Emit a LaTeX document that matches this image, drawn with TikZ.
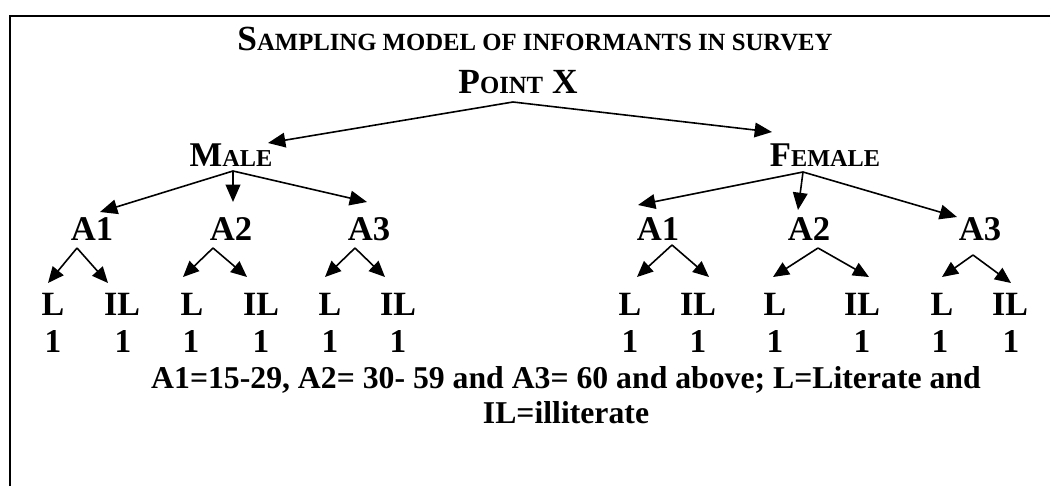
\documentclass[tikz,border=0pt]{standalone}
\usepackage{fontspec}
\setmainfont{Liberation Serif}
\usepackage{graphicx}
\usetikzlibrary{arrows.meta}
\newcommand{\fakesc}[2]{#1\scalebox{0.7}{#2}}

\begin{document}
\begin{tikzpicture}[x=0.75pt,y=-0.75pt,
    every node/.style={inner sep=0pt,anchor=base},
    ttl/.style={font=\fontsize{26.5}{30}\selectfont\bfseries},
    sex/.style={font=\fontsize{26}{30}\selectfont\bfseries},
    age/.style={font=\fontsize{26}{30}\selectfont\bfseries},
    lit/.style={font=\fontsize{25.5}{30}\selectfont\bfseries},
    num/.style={font=\fontsize{25}{30}\selectfont\bfseries},
    note/.style={font=\fontsize{23.8}{28}\selectfont\bfseries},
    arr/.style={-{Triangle[length=13pt,width=11pt]},line width=1.2pt},
    arrsm/.style={-{Triangle[length=12pt,width=10.5pt]},line width=1.2pt}]
  \useasboundingbox (0,0) rectangle (1050,486);
  \draw[line width=1.5pt] (10,486) -- (10,16) -- (1050,16);
  \path
    (535,50) node[ttl] (title){\fakesc{S}{AMPLING MODEL OF INFORMANTS IN SURVEY}}
    (518,93) node[ttl] (pointx){\fakesc{P}{OINT} X}
    (231,166) node[sex] (male){\fakesc{M}{ALE}}
    (825,166) node[sex] (female){\fakesc{F}{EMALE}}
    (92,240) node[age] (mA1){A1}
    (231,240) node[age] (mA2){A2}
    (369,240) node[age] (mA3){A3}
    (658,240) node[age] (fA1){A1}
    (809,240) node[age] (fA2){A2}
    (980,240) node[age] (fA3){A3};
  \path
    (53,315) node[lit] (mL1){L}
    (122,315) node[lit] (mIL1){IL}
    (192,315) node[lit] (mL2){L}
    (261,315) node[lit] (mIL2){IL}
    (330,315) node[lit] (mL3){L}
    (398,315) node[lit] (mIL3){IL}
    (630,315) node[lit] (fL1){L}
    (698,315) node[lit] (fIL1){IL}
    (775,315) node[lit] (fL2){L}
    (862,315) node[lit] (fIL2){IL}
    (942,315) node[lit] (fL3){L}
    (1010,315) node[lit] (fIL3){IL};
  \path
    (53,352) node[num] (mL1n){1}
    (123,352) node[num] (mIL1n){1}
    (191,352) node[num] (mL2n){1}
    (261,352) node[num] (mIL2n){1}
    (330,352) node[num] (mL3n){1}
    (398,352) node[num] (mIL3n){1}
    (630,352) node[num] (fL1n){1}
    (698,352) node[num] (fIL1n){1}
    (775,352) node[num] (fL2n){1}
    (862,352) node[num] (fIL2n){1}
    (940,352) node[num] (fL3n){1}
    (1011,352) node[num] (fIL3n){1};
  \path
    (566,388) node[note] (key1){A1=15-29, A2= 30- 59 and A3= 60 and above; L=Literate and}
    (566,423) node[note] (key2){IL=illiterate};
  \begin{scope}[arr]
    \draw ([shift={(-5,9)}]pointx.base) to ([shift={(37,-23)}]male.base);
    \draw ([shift={(-5,9)}]pointx.base) to ([shift={(-53,-34)}]female.base);
    \draw ([shift={(2,5)}]male.base) to ([shift={(8,-28)}]mA1.base);
    \draw ([shift={(2,5)}]male.base) to ([shift={(2,-38)}]mA2.base);
    \draw ([shift={(2,5)}]male.base) to ([shift={(-2,-38)}]mA3.base);
    \draw ([shift={(-22,6)}]female.base) to ([shift={(-20,-35)}]fA1.base);
    \draw ([shift={(-22,6)}]female.base) to ([shift={(-11,-30)}]fA2.base);
    \draw ([shift={(-22,6)}]female.base) to ([shift={(-23,-23)}]fA3.base);
  \end{scope}
  \begin{scope}[arrsm]
    \draw ([shift={(-15,8)}]mA1.base) to ([shift={(-5,-32)}]mL1.base);
    \draw ([shift={(-15,8)}]mA1.base) to ([shift={(-14,-32)}]mIL1.base);
    \draw ([shift={(-18,8)}]mA2.base) to ([shift={(-9,-38)}]mL2.base);
    \draw ([shift={(-18,8)}]mA2.base) to ([shift={(-14,-38)}]mIL2.base);
    \draw ([shift={(-14,8)}]mA3.base) to ([shift={(-5,-38)}]mL3.base);
    \draw ([shift={(-14,8)}]mA3.base) to ([shift={(-13,-38)}]mIL3.base);
    \draw ([shift={(14,5)}]fA1.base) to ([shift={(7,-38)}]fL1.base);
    \draw ([shift={(14,5)}]fA1.base) to ([shift={(11,-38)}]fIL1.base);
    \draw ([shift={(9,8)}]fA2.base) to ([shift={(-2,-38)}]fL2.base);
    \draw ([shift={(9,8)}]fA2.base) to ([shift={(7,-38)}]fIL2.base);
    \draw ([shift={(-7,15)}]fA3.base) to ([shift={(0,-38)}]fL3.base);
    \draw ([shift={(-7,15)}]fA3.base) to ([shift={(1,-32)}]fIL3.base);
  \end{scope}
\end{tikzpicture}
\end{document}
